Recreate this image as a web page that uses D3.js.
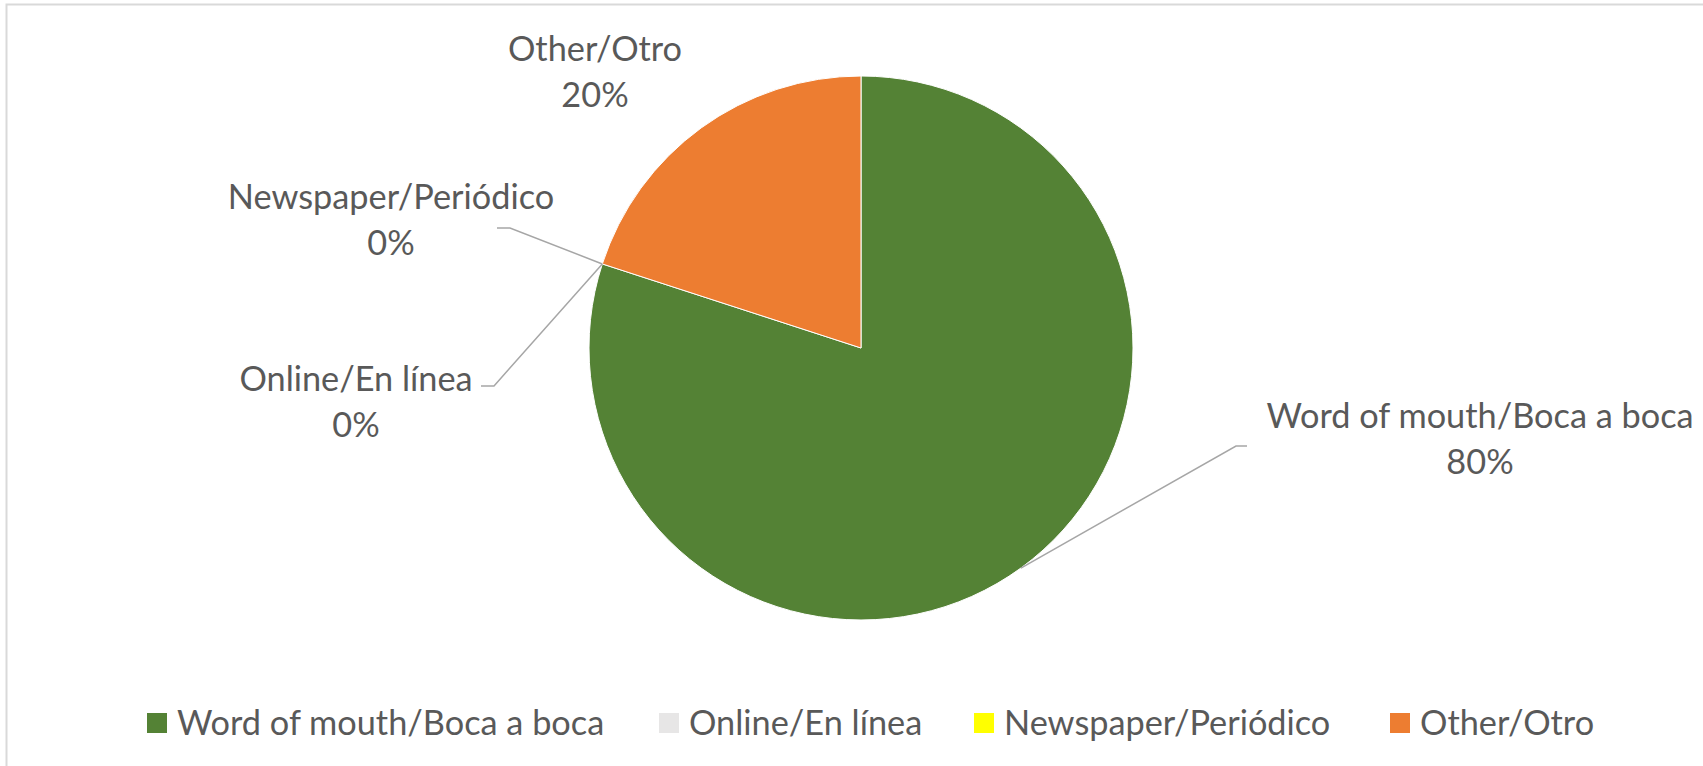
<!DOCTYPE html>
<html>
<head>
<meta charset="utf-8">
<script src="https://cdn.jsdelivr.net/npm/d3@7"></script>
<style>
  body { margin: 0; background: #fff; }
  text { font-family: Lato, "Open Sans", sans-serif; fill: #595959; }
</style>
</head>
<body>
<div id="chart"></div>
<script>
let categories = ["Word of mouth/Boca a boca", "Online/En línea", "Newspaper/Periódico", "Other/Otro"];
let values = [80, 0, 0, 20];
let colors = ["#548235", "#E7E6E6", "#FFFF00", "#ED7D31"];

let W = 1703, H = 766;
let cx = 861, cy = 348, R = 272;
let fontSize = 34.3;

// label boxes: centre x, first baseline, and elbow point of leader line
let labelLayout = [
  {x: 1480, y: 428, elbow: [1236, 446], end: [1247, 446]},
  {x: 356,  y: 391, elbow: [494, 386],  end: [481, 386]},
  {x: 391,  y: 209, elbow: [510, 228],  end: [497, 228]},
  {x: 595,  y: 61,  elbow: null, end: null}
];

// legend positions
let legendX = [147, 659, 974, 1390];
let legendY = 723;

let svg = d3.select("#chart").append("svg")
  .attr("width", W)
  .attr("height", H);

// chart frame (only top + left visible)
svg.append("path")
  .attr("d", "M6.5," + H + " L6.5,4.5 L" + W + ",4.5")
  .attr("fill", "none")
  .attr("stroke", "#d9d9d9")
  .attr("stroke-width", 2);

let data = categories.map(function(c, i) { return {name: c, value: values[i], color: colors[i]}; });

let pie = d3.pie().sort(null).value(function(d) { return d.value; });
let arcs = pie(data);
let arc = d3.arc().innerRadius(0).outerRadius(R);

let g = svg.append("g").attr("transform", "translate(" + cx + "," + cy + ")");

g.selectAll("path")
  .data(arcs)
  .enter().append("path")
    .attr("d", arc)
    .attr("fill", function(d) { return d.data.color; })
    .attr("stroke", "#fff")
    .attr("stroke-width", function(d) { return d.value > 0 ? 1 : 0; });

// leader lines
arcs.forEach(function(a, i) {
  let L = labelLayout[i];
  if (!L.elbow) return;
  let mid = (a.startAngle + a.endAngle) / 2;
  let sx = cx + R * Math.sin(mid);
  let sy = cy - R * Math.cos(mid);
  svg.append("polyline")
    .attr("points", [[sx, sy], L.elbow, L.end].map(function(p) { return p.join(","); }).join(" "))
    .attr("fill", "none")
    .attr("stroke", "#a6a6a6")
    .attr("stroke-width", 1.5);
});

// data labels
let fmt = d3.format(".0%");
let total = d3.sum(values);
let lab = svg.selectAll("text.lab")
  .data(arcs)
  .enter().append("text")
    .attr("class", "lab")
    .attr("text-anchor", "middle")
    .attr("font-size", fontSize)
    .attr("x", function(d, i) { return labelLayout[i].x; })
    .attr("y", function(d, i) { return labelLayout[i].y; });
lab.append("tspan")
  .text(function(d) { return d.data.name; });
lab.append("tspan")
  .attr("x", function(d, i) { return labelLayout[i].x; })
  .attr("dy", 46)
  .text(function(d) { return fmt(d.data.value / total); });

// legend
let leg = svg.selectAll("g.leg")
  .data(data)
  .enter().append("g")
    .attr("class", "leg")
    .attr("transform", function(d, i) { return "translate(" + legendX[i] + "," + legendY + ")"; });
leg.append("rect")
  .attr("x", 0).attr("y", -10)
  .attr("width", 20).attr("height", 20)
  .attr("fill", function(d) { return d.color; });
leg.append("text")
  .attr("x", 30)
  .attr("y", 12)
  .attr("font-size", fontSize)
  .text(function(d) { return d.name; });
</script>
</body>
</html>
